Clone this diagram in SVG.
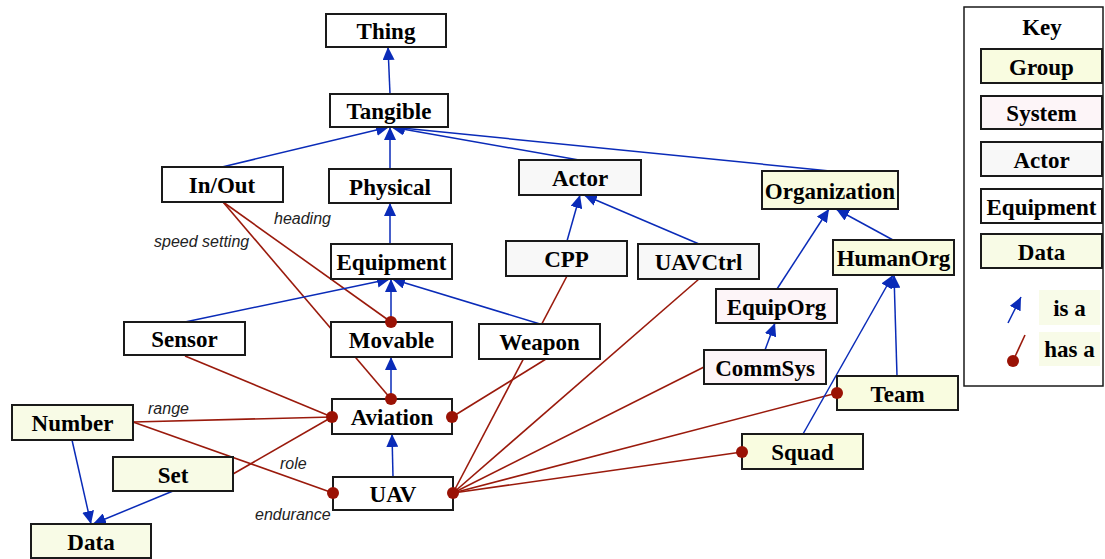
<svg xmlns="http://www.w3.org/2000/svg" width="1105" height="559" viewBox="0 0 1105 559">
  <style>
    .box { stroke: #1a1a1a; stroke-width: 2; }
    .equip { fill: #ffffff; }
    .actor { fill: #f8f8f8; }
    .system { fill: #fdf5f8; }
    .group { fill: #f9fce0; }
    .data { fill: #f8fbe6; }
    .lbl { font-family: "Liberation Serif", "Times New Roman", serif; font-weight: bold; font-size: 23px; fill: #000; text-anchor: middle; }
    .role { font-family: "Liberation Sans", Arial, sans-serif; font-style: italic; font-size: 16px; fill: #222; }
    .isa { stroke: #0a2bb8; stroke-width: 1.5; fill: none; marker-end: url(#tri); }
    .hasa { stroke: #9a1a0c; stroke-width: 1.6; fill: none; }
    .dot { fill: #9a1205; }
  </style>
  <defs>
    <marker id="tri" markerUnits="userSpaceOnUse" markerWidth="14" markerHeight="12" refX="13" refY="6" orient="auto">
      <path d="M0,0 L13,6 L0,12 Z" fill="#0a2bb8"/>
    </marker>
  </defs>

  <!-- connectors -->
  <g id="connectors">
    <!-- has-a links -->
    <path class="hasa" d="M223,202 L391,322"/>
    <path class="hasa" d="M223,202 L391,399"/>
    <path class="hasa" d="M185,356 L332,417"/>
    <path class="hasa" d="M133,422 L332,417"/>
    <path class="hasa" d="M233,474 L332,417"/>
    <path class="hasa" d="M133,422 L333,493"/>
    <path class="hasa" d="M546,359 L452,417"/>
    <path class="hasa" d="M567,276 L453,493"/>
    <path class="hasa" d="M699,279 L453,493"/>
    <path class="hasa" d="M704,367 L453,493"/>
    <path class="hasa" d="M837,393 L453,493"/>
    <path class="hasa" d="M742,452 L453,493"/>

    <!-- is-a links -->
    <path class="isa" d="M390,94 L388,47"/>
    <path class="isa" d="M222,167 L389,127"/>
    <path class="isa" d="M390,169 L390,127"/>
    <path class="isa" d="M579,160 L391,127"/>
    <path class="isa" d="M830,171 L392,127"/>
    <path class="isa" d="M390,244 L390,203"/>
    <path class="isa" d="M185,322 L390,279"/>
    <path class="isa" d="M391,322 L391,279"/>
    <path class="isa" d="M540,324 L392,279"/>
    <path class="isa" d="M391,399 L391,357"/>
    <path class="isa" d="M393,477 L392,434"/>
    <path class="isa" d="M567,241 L580,195"/>
    <path class="isa" d="M699,244 L584,195"/>
    <path class="isa" d="M777,289 L829,209"/>
    <path class="isa" d="M893,240 L836,209"/>
    <path class="isa" d="M765,350 L775,323"/>
    <path class="isa" d="M897,376 L894,275"/>
    <path class="isa" d="M803,434 L893,275"/>
    <path class="isa" d="M72,440 L91,524"/>
    <path class="isa" d="M173,491 L93,524"/>

    <!-- link roles -->
    <text class="role" x="154" y="247">speed setting</text>
    <text class="role" x="274" y="224">heading</text>
    <text class="role" x="148" y="414">range</text>
    <text class="role" x="280" y="469">role</text>
    <text class="role" x="255" y="520">endurance</text>
  </g>

  <!-- nodes -->
  <g id="Thing"><rect class="box equip" x="326" y="14" width="120" height="33"/><text class="lbl" x="386" y="39">Thing</text></g>
  <g id="Tangible"><rect class="box equip" x="330" y="94" width="118" height="33"/><text class="lbl" x="389" y="119">Tangible</text></g>
  <g id="InOut"><rect class="box equip" x="162" y="167" width="121" height="35"/><text class="lbl" x="222" y="193">In/Out</text></g>
  <g id="Physical"><rect class="box equip" x="329" y="169" width="122" height="34"/><text class="lbl" x="390" y="195">Physical</text></g>
  <g id="Equipment"><rect class="box equip" x="331" y="244" width="121" height="35"/><text class="lbl" x="391.5" y="270">Equipment</text></g>
  <g id="Movable"><rect class="box equip" x="331" y="322" width="121" height="35"/><text class="lbl" x="391.5" y="348">Movable</text></g>
  <g id="Sensor"><rect class="box equip" x="124" y="322" width="121" height="33"/><text class="lbl" x="184.5" y="347">Sensor</text></g>
  <g id="Weapon"><rect class="box equip" x="479" y="324" width="121" height="35"/><text class="lbl" x="539.5" y="350">Weapon</text></g>
  <g id="Aviation"><rect class="box equip" x="332" y="399" width="120" height="35"/><text class="lbl" x="392" y="425">Aviation</text></g>
  <g id="UAV"><rect class="box equip" x="333" y="477" width="120" height="33"/><text class="lbl" x="393" y="502">UAV</text></g>

  <g id="Actor"><rect class="box actor" x="519" y="160" width="122" height="35"/><text class="lbl" x="580" y="186">Actor</text></g>
  <g id="CPP"><rect class="box actor" x="506" y="241" width="121" height="35"/><text class="lbl" x="566.5" y="267">CPP</text></g>
  <g id="UAVCtrl"><rect class="box actor" x="638" y="244" width="121" height="35"/><text class="lbl" x="698.5" y="270">UAVCtrl</text></g>

  <g id="EquipOrg"><rect class="box system" x="716" y="289" width="121" height="34"/><text class="lbl" x="776.5" y="315">EquipOrg</text></g>
  <g id="CommSys"><rect class="box system" x="704" y="350" width="122" height="34"/><text class="lbl" x="765" y="376">CommSys</text></g>

  <g id="Organization"><rect class="box group" x="762" y="171" width="136" height="38"/><text class="lbl" x="830" y="199">Organization</text></g>
  <g id="HumanOrg"><rect class="box group" x="833" y="240" width="121" height="35"/><text class="lbl" x="893.5" y="266">HumanOrg</text></g>
  <g id="Team"><rect class="box group" x="837" y="376" width="121" height="34"/><text class="lbl" x="897.5" y="402">Team</text></g>
  <g id="Squad"><rect class="box group" x="742" y="434" width="121" height="35"/><text class="lbl" x="802.5" y="460">Squad</text></g>

  <g id="Number"><rect class="box data" x="12" y="405" width="121" height="35"/><text class="lbl" x="72.5" y="431">Number</text></g>
  <g id="Set"><rect class="box data" x="113" y="457" width="120" height="34"/><text class="lbl" x="173" y="483">Set</text></g>
  <g id="Data"><rect class="box data" x="31" y="524" width="120" height="34"/><text class="lbl" x="91" y="550">Data</text></g>

  <!-- has-a ends -->
  <g id="hasa-ends">
    <circle class="dot" cx="391" cy="322" r="6"/>
    <circle class="dot" cx="391" cy="399" r="6"/>
    <circle class="dot" cx="332" cy="417" r="6"/>
    <circle class="dot" cx="452" cy="417" r="6"/>
    <circle class="dot" cx="333" cy="493" r="6"/>
    <circle class="dot" cx="453" cy="493" r="6"/>
    <circle class="dot" cx="837" cy="393" r="6"/>
    <circle class="dot" cx="742" cy="452" r="6"/>
  </g>

  <!-- legend -->
  <g id="Key">
    <rect x="964" y="7" width="139" height="379" fill="#ffffff" stroke="#1a1a1a" stroke-width="1.5"/>
    <text class="lbl" x="1042" y="35">Key</text>
    <rect class="box group" x="981" y="49" width="121" height="34"/><text class="lbl" x="1041.5" y="75">Group</text>
    <rect class="box system" x="981" y="96" width="121" height="33"/><text class="lbl" x="1041.5" y="121">System</text>
    <rect class="box actor" x="981" y="142" width="121" height="34"/><text class="lbl" x="1041.5" y="168">Actor</text>
    <rect class="box equip" x="981" y="189" width="121" height="34"/><text class="lbl" x="1041.5" y="215">Equipment</text>
    <rect class="box data" x="981" y="234" width="121" height="34"/><text class="lbl" x="1041.5" y="260">Data</text>
    <rect x="1039" y="290" width="61" height="35" fill="#f8fbe8"/>
    <text class="lbl" x="1069.5" y="316">is a</text>
    <rect x="1039" y="332" width="61" height="34" fill="#f8fbe8"/>
    <text class="lbl" x="1069.5" y="357">has a</text>
    <path class="isa" d="M1008,323 L1021,297"/>
    <path class="hasa" d="M1025,335 L1013,361"/>
    <circle class="dot" cx="1013" cy="361" r="6"/>
  </g>
</svg>
